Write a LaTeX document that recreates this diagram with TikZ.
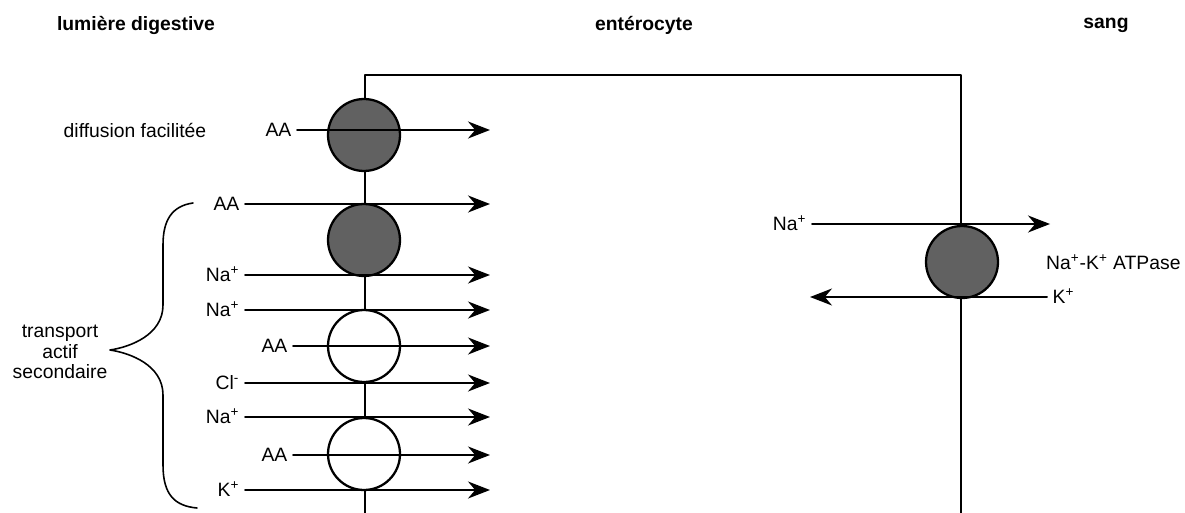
\documentclass[tikz,border=0pt]{standalone}
\usepackage{fontspec}
\setmainfont{Liberation Sans}
\usetikzlibrary{arrows.meta}

\tikzset{
  flux/.style={->,line width=1.1pt},
  ion/.style={anchor=east,inner sep=3pt,text height=0.72em,text depth=0pt},
  pump/.style={circle,draw,line width=1.3pt,minimum size=1.44cm,inner sep=0pt},
  title/.style={font=\fontsize{11}{13}\selectfont\bfseries},
}

\begin{document}
\begin{tikzpicture}[x=0.02cm,y=-0.02cm,font=\fontsize{11}{11.5}\selectfont,line join=round,line cap=round,>={Stealth[length=0.44cm,width=0.34cm]}]
	\useasboundingbox (0,0) rectangle (1185,513);
	% titres
	\node[title] (lum) at (136,25) {lumière digestive};
	\node[title] (ent) at (644,25) {entérocyte};
	\node[title] (sang) at (1106,25) {sang};
	% membranes
	\draw[line width=1.1pt] (365,513) coordinate (mlb) -- (365,75) coordinate (mlt) -- (961,75) coordinate (mrt) -- (961,513) coordinate (mrb);
	% transporteurs
	\node[pump,fill=black!62] (c1) at (364,135) {};
	\node[pump,fill=black!62] (c2) at (364,240) {};
	\node[pump,fill=white] (c3) at (364,346) {};
	\node[pump,fill=white] (c4) at (364,454) {};
	\node[pump,fill=black!62] (c5) at (962,262) {};
	% flux pole apical
	\foreach \y/\lab/\xs [count=\i] in {
		130/AA/297, 204/AA/245, 275/{Na\textsuperscript{+}}/245, 310/{Na\textsuperscript{+}}/245, 346/AA/293,
		383/{Cl\textsuperscript{-}}/245, 417/{Na\textsuperscript{+}}/245, 455/AA/293, 490/{K\textsuperscript{+}}/245
	} {
		\node[ion] (l\i) at (\xs,\y) {\lab};
		\coordinate (e\i) at (490,\y);
		\draw[flux] (l\i.east) -- (e\i);
	}
	% pole basolateral
	\node[ion] (na) at (812,224) {Na\textsuperscript{+}};
	\coordinate (naend) at (1050,224);
	\draw[flux] (na.east) -- (naend);
	\node[ion,anchor=west] (k) at (1047,297) {K\textsuperscript{+}};
	\coordinate (kend) at (810,297);
	\draw[flux] (k.west) -- (kend);
	\node[anchor=west] (atp) at (1040,262) {Na\textsuperscript{+}-K\textsuperscript{+} ATPase};
	% legendes
	\node (diff) at (135,130) {diffusion facilitée};
	\node[align=center] (tas) at (60,352) {transport\\actif\\secondaire};
	\draw[line width=0.9pt] (193,203) .. controls (172,206) and (163,220) .. (163,245) -- (163,305)
		.. controls (163,335) and (130,347) .. (110,350) .. controls (130,353) and (163,365) .. (163,395)
		-- (163,465) .. controls (163,495) and (175,506) .. (197,508);
\end{tikzpicture}
\end{document}
